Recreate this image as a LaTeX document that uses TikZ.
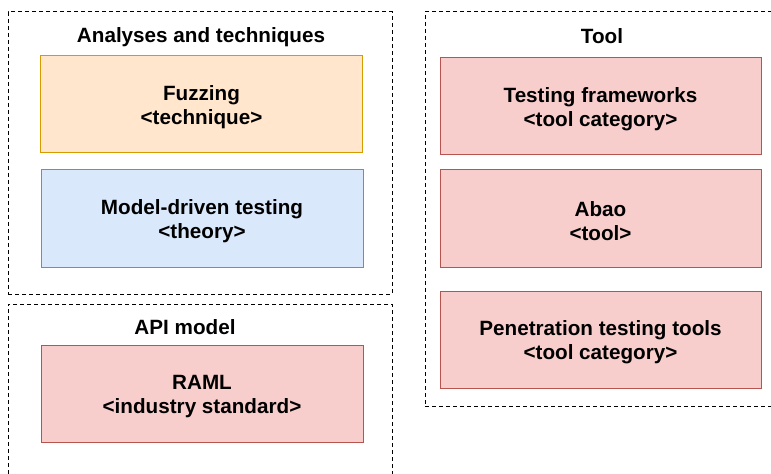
\documentclass[tikz,border=0pt]{standalone}
\usepackage{fontspec}
\setmainfont{Liberation Sans}
\usetikzlibrary{fit}
\definecolor{orangefill}{HTML}{FFE6CC}
\definecolor{orangeline}{HTML}{D79B00}
\definecolor{bluefill}{HTML}{DAE8FC}
\definecolor{blueline}{HTML}{6C8EBF}
\definecolor{redfill}{HTML}{F8CECC}
\definecolor{redline}{HTML}{B85450}
\tikzset{
  group/.style={draw=black, line width=0.75pt, dash pattern=on 3pt off 2.25pt, inner sep=0pt},
  grouptitle/.style={font=\fontsize{15.5}{17}\selectfont\bfseries, inner sep=0pt, anchor=center},
  item/.style={line width=0.75pt, inner sep=0pt},
  orangeitem/.style={item, draw=orangeline, fill=orangefill},
  blueitem/.style={item, draw=blueline, fill=bluefill},
  reditem/.style={item, draw=redline, fill=redfill},
  label/.style={align=center, inner sep=0pt, yshift=-2.2pt,
    font=\fontsize{15.5}{17.8}\selectfont\bfseries},
}
\begin{document}
\begin{tikzpicture}[x=0.75pt, y=-0.75pt]
  \clip (0,0) rectangle (771,474);
  \fill[white] (0,0) rectangle (771,474);

  % dashed groups
  \node[group, fit={(8,12) (392,294)}] (analyses) {};
  \node[group, fit={(8,304) (392,490)}] (apimodel) {};
  \node[group, fit={(425,12) (790,406)}] (tool) {};

  % group titles
  \node[grouptitle] (analysesT) at (201,37.5) {Analyses and techniques};
  \node[grouptitle] (apimodelT) at (185,327) {API model};
  \node[grouptitle] (toolT) at (602,36.5) {Tool};

  % analyses and techniques
  \node[orangeitem, fit={(40.5,56) (362.5,153)}] (fuzzing) {};
  \node[label] (fuzzingL) at (fuzzing.center) {Fuzzing\\\textless technique\textgreater};
  \node[blueitem, fit={(41,170) (363,267)}] (mdt) {};
  \node[label] (mdtL) at (mdt.center) {Model-driven testing\\\textless theory\textgreater};

  % api model
  \node[reditem, fit={(41,345) (363,442)}] (raml) {};
  \node[label] (ramlL) at (raml.center) {RAML\\\textless industry standard\textgreater};

  % tools
  \node[reditem, fit={(440,58) (761,155)}] (frameworks) {};
  \node[label] (frameworksL) at (frameworks.center) {Testing frameworks\\\textless tool category\textgreater};
  \node[reditem, fit={(440,170) (761,267)}] (abao) {};
  \node[label] (abaoL) at (abao.center) {Abao\\\textless tool\textgreater};
  \node[reditem, fit={(440,291) (761,388)}] (pentest) {};
  \node[label] (pentestL) at (pentest.center) {Penetration testing tools\\\textless tool category\textgreater};
\end{tikzpicture}
\end{document}
